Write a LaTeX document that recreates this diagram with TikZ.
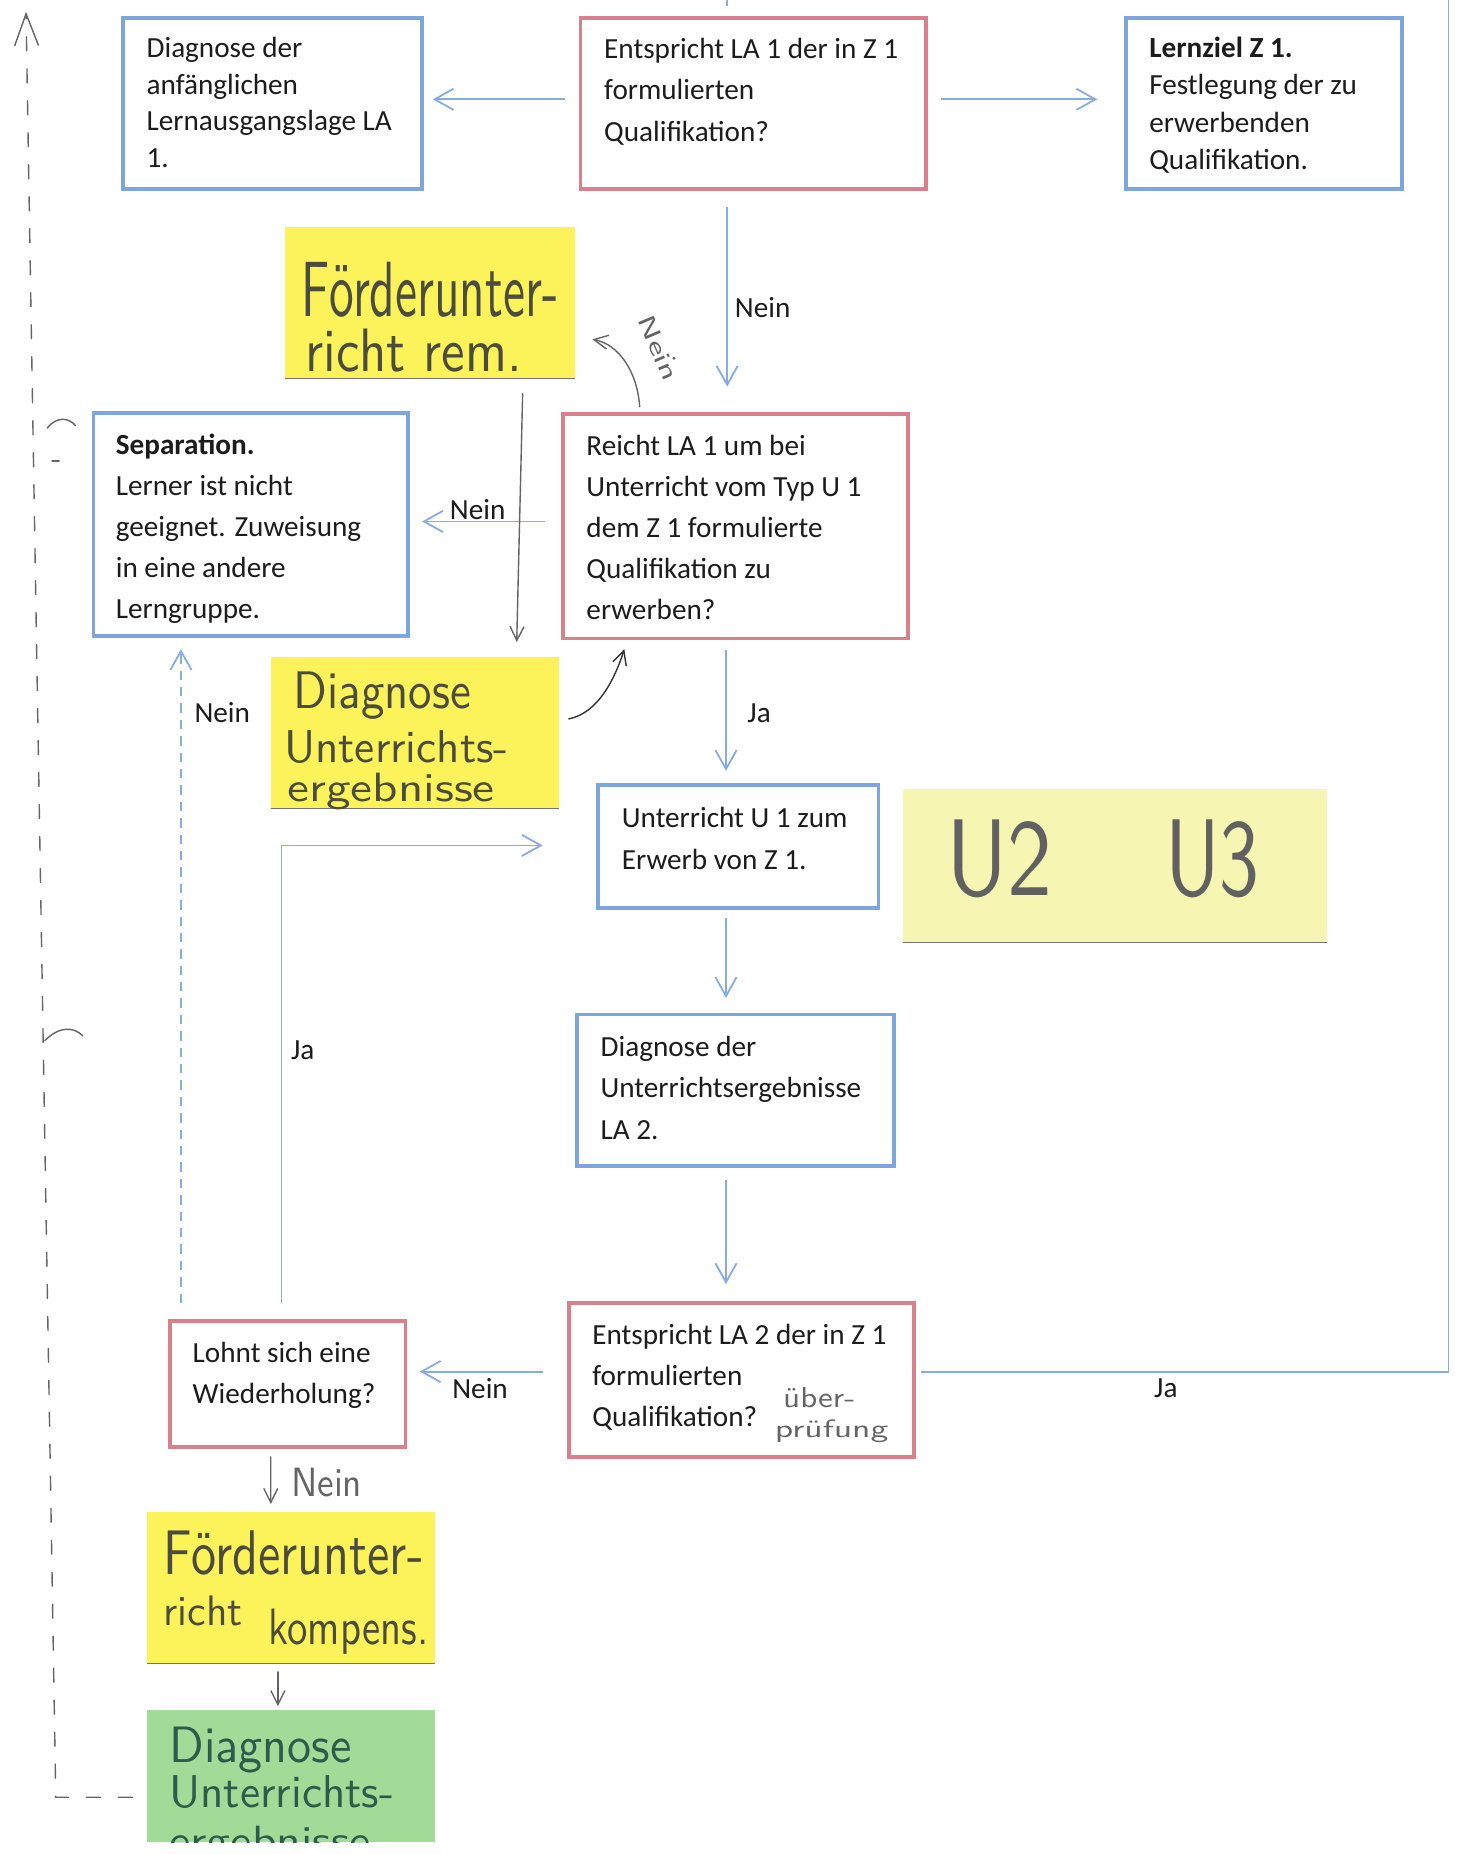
\documentclass[tikz,border=0pt]{standalone}
\usepackage{fontspec}
\setmainfont{Carlito}
\usepackage{graphicx}
\usetikzlibrary{arrows.meta,calc}
\newdimen\unitpx \unitpx=0.59135pt
\definecolor{bbox}{RGB}{125,166,222}
\definecolor{rbox}{RGB}{217,128,140}
\definecolor{barrow}{RGB}{135,172,225}
\definecolor{stickyY}{RGB}{252,243,90}
\definecolor{stickyP}{RGB}{246,246,178}
\definecolor{stickyG}{RGB}{162,218,152}
\definecolor{pencilc}{RGB}{100,100,100}
\definecolor{ink}{RGB}{28,28,28}
\definecolor{handink}{RGB}{75,75,62}
\definecolor{greenink}{RGB}{45,92,74}
\newcommand\boxtxt[6]{\parbox[c][#2\unitpx][t]{#1\unitpx}{\fontsize{14.6pt}{#5\unitpx}\selectfont\raggedright\leftskip=#3\unitpx\relax\rightskip=0pt plus 1fil\relax\rule{0pt}{#4\unitpx}#6}}
\newcommand\hw[3]{\resizebox{#1\unitpx}{#2\unitpx}{\sffamily #3}}
\begin{document}
\begin{tikzpicture}[x=0.59135pt,y=-0.59135pt,
  boxbase/.style={anchor=north west, inner sep=0pt, outer sep=0pt, line width=1.9pt, text=ink},
  bluebox/.style={boxbase, draw=bbox},
  redbox/.style={boxbase, draw=rbox},
  conn/.style={draw=barrow, line width=0.9pt},
  arr/.style={conn, -{Straight Barb[length=9.5pt,width=10.6pt]}},
  dasharr/.style={arr, dash pattern=on 4.7pt off 3.5pt},
  lbl/.style={text=ink, inner sep=0pt, font=\fontsize{14.6pt}{17pt}\selectfont},
  sticky/.style={anchor=north west, inner sep=0pt, outer sep=0pt},
  stickyedge/.style={draw=black!55, line width=0.5pt},
  hand/.style={anchor=base west, inner sep=0pt, text=handink},
  pencil/.style={draw=pencilc, line width=0.7pt, line cap=round},
  pencilarr/.style={pencil, -{Straight Barb[length=7pt,width=7pt]}},
  marginline/.style={pencil, dash pattern=on 7pt off 9pt, -{Straight Barb[length=16pt,width=12pt]}}
]
\fill[white] (0,0) rectangle (1237,1568);
\useasboundingbox (0,0) rectangle (1237,1568);

% ---------- boxes ----------
\node[bluebox] (d1) at (104,15) {\boxtxt{253}{145}{20}{33.5}{31}{Diagnose der\\anfänglichen\\Lernausgangslage LA\\1.}};
\node[redbox] (q1) at (491,15) {\boxtxt{292}{145}{20}{34.5}{35}{Entspricht LA 1 der in Z 1\\formulierten\\Qualifikation?}};
\node[bluebox] (z1) at (952,15) {\boxtxt{234}{145}{20}{33.5}{31.7}{\textbf{Lernziel Z 1.}\\Festlegung der zu\\erwerbenden\\Qualifikation.}};
\node[bluebox] (sep) at (79,349) {\boxtxt{266}{189}{19}{35}{34.75}{\textbf{Separation.}\\Lerner ist nicht\\geeignet. Zuweisung\\in eine andere\\Lerngruppe.}};
\node[redbox] (r) at (476,350) {\boxtxt{292}{190}{20}{35}{34.75}{Reicht LA 1 um bei\\Unterricht vom Typ U 1\\dem Z 1 formulierte\\Qualifikation zu\\erwerben?}};
\node[bluebox] (u1) at (506,664) {\boxtxt{237}{104}{20}{35.5}{36}{Unterricht U 1 zum\\Erwerb von Z 1.}};
\node[bluebox] (d2) at (488,858) {\boxtxt{268}{128}{20}{35.5}{35}{Diagnose der\\Unterrichtsergebnisse\\LA 2.}};
\node[redbox] (q2) at (481,1102) {\boxtxt{292}{130}{20}{35.5}{34.5}{Entspricht LA 2 der in Z 1\\formulierten\\Qualifikation?}};
\node[redbox] (w) at (144,1117) {\boxtxt{199}{107}{19}{35}{35}{Lohnt sich eine\\Wiederholung?}};

% ---------- sticky notes ----------
\node[sticky, fill=stickyY, minimum width=144.9pt, minimum height=75.7pt] (s1) at (241,192) {};
\node[sticky, fill=stickyY, minimum width=144.3pt, minimum height=75.7pt] (s2) at (229,556) {};
\node[sticky, fill=stickyP, minimum width=211.7pt, minimum height=76.9pt] (su) at (764,667) {};
\node[sticky, fill=stickyY, minimum width=144.3pt, minimum height=75.7pt] (s3) at (124,1279) {};
\node[sticky, fill=stickyG, minimum width=144.3pt, minimum height=66.2pt] (g) at (124,1446) {};
\draw[stickyedge] (s1.south west) -- (s1.south east);
\draw[stickyedge] (s2.south west) -- (s2.south east);
\draw[stickyedge] (su.south west) -- (su.south east);
\draw[stickyedge] (s3.south west) -- (s3.south east);

% ---------- handwriting ----------
\node[hand] (h1) at (255,268) {\hw{217}{46}{Förderunter-}};
\node[hand] (h2) at (258,314) {\hw{183}{36}{richt rem.}};
\node[hand] (h3) at (248,599) {\hw{150}{31}{Diagnose}};
\node[hand] (h4) at (240,645) {\hw{190}{27}{Unterrichts-}};
\node[hand] (h5) at (243,678) {\hw{175}{24}{ergebnisse}};
\node[hand, text=black!62] (h6) at (800,757) {\hw{90}{64}{U2}};
\node[hand, text=black!62] (h7) at (985,757) {\hw{80}{64}{U3}};
\node[hand] (h9) at (138,1332) {\hw{220}{37}{Förderunter-}};
\node[hand] (h10) at (138,1375) {\hw{67}{25}{richt}};
\node[hand] (h11) at (227,1391) {\hw{135}{30}{kompens.}};
\begin{scope}
\clip (g.north west) rectangle (g.south east);
\node[hand, text=greenink] (h12) at (143,1491) {\hw{154}{30}{Diagnose}};
\node[hand, text=greenink] (h13) at (143,1529) {\hw{190}{27}{Unterrichts-}};
\node[hand, text=greenink] (h14) at (143,1568) {\hw{170}{24}{ergebnisse}};
\end{scope}
\node[hand, text=pencilc] (h15) at (662,1190) {\hw{61}{17}{über-}};
\node[hand, text=pencilc] (h16) at (655,1216) {\hw{96}{15}{prüfung}};
\node[hand, text=pencilc] (h8) at (246,1266) {\hw{60}{24}{Nein}};
\node[hand, text=pencilc, rotate=-67] (h17) at (539,270) {\hw{58}{14}{Nein}};
\fill[pencilc] (570,303) circle (0.8pt);

% ---------- connectors ----------
\coordinate (entryTop) at (615,0);
\coordinate (exitTop) at (1225,0);
\draw[conn] (entryTop) -- ([shift={(-22,-10)}]q1.north);
\draw[arr] ([shift={(-13,-3.5)}]q1.west) -- ([shift={(9,-3.5)}]d1.east);
\draw[arr] ([shift={(13,-3.5)}]q1.east) -- ([shift={(-24,-3.5)}]z1.west);
\draw[arr] ([shift={(-22,15)}]q1.south) -- ([shift={(-7,-23)}]r.north);
\draw[arr] ([shift={(-15,-4)}]r.west) -- ([shift={(12,-2.5)}]sep.east);
\draw[arr] ([shift={(-8,10)}]r.south) -- ([shift={(-10.5,-12)}]u1.north);
\draw[arr] ([shift={(-10.5,8)}]u1.south) -- ([shift={(-8,-14)}]d2.north);
\draw[arr] ([shift={(-8,12)}]d2.south) -- ([shift={(-13,-16)}]q2.north);
\draw[arr] ([shift={(-22,-7)}]q2.west) -- ([shift={(12,-10.5)}]w.east);
\draw[conn] ([shift={(6,-7)}]q2.east) -| (exitTop);
\draw[arr] ([shift={(-5.5,-15)}]w.north) |- ([shift={(-47,-1)}]u1.west);
\draw[dasharr] ([shift={(9,-15)}]w.north west) -- ([shift={(-59,11)}]sep.south);

% labels
\node[lbl] (l1) at (645,260) {Nein};
\node[lbl] (l2) at (404,431) {Nein};
\node[lbl] (l3) at (642,603) {Ja};
\node[lbl] (l4) at (188,603) {Nein};
\node[lbl] (l5) at (256,888) {Ja};
\node[lbl] (l6) at (406,1174) {Nein};
\node[lbl] (l7) at (986,1174) {Ja};

% ---------- pencil connectors ----------
\draw[pencilarr] ([shift={(78.5,13)}]s1.south) -- ([shift={(86,-13)}]s2.north);
\draw[pencilarr] ([shift={(65,-6)}]r.north west) .. controls +(-2,-30) and +(22,4) .. ([shift={(15,31)}]s1.east);
\draw[pencilarr, draw=black!80] ([shift={(8,-12)}]s2.east) .. controls +(25,-5) and +(-8,25) .. ([shift={(52,9)}]r.south west);
\draw[pencilarr] ([shift={(-14.5,8)}]w.south) -- ([shift={(-17,-7)}]s3.north);
\draw[pencilarr] ([shift={(-11,7)}]s3.south) -- ([shift={(-11,-3)}]g.north);
\coordinate (marginTop) at (22,10);
\draw[marginline] ([shift={(-12,18)}]g.west) -- (47,1520) -- (47,1510) -- (marginTop);
\draw[pencil] (40,362) .. controls (48,352) and (58,353) .. (64,360);
\draw[pencil] (44,390) -- (50,390);
\draw[pencil] (38,880) .. controls (50,868) and (62,868) .. (70,876);
\end{tikzpicture}
\end{document}
